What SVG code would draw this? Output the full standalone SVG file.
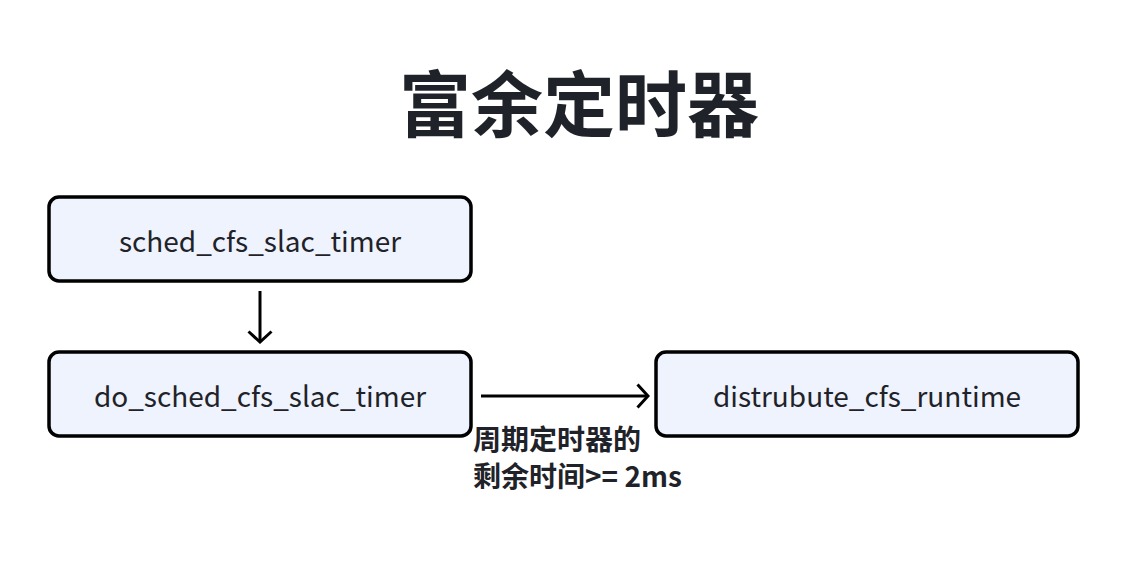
<svg xmlns="http://www.w3.org/2000/svg" width="1128" height="584" viewBox="0 0 1128 584">
<defs>
<style>
.node rect{fill:#eef3fd;stroke:#000;stroke-width:3.5}
.node text{font-family:"Noto Sans CJK SC","Noto Sans",sans-serif;font-size:28px;fill:#1f2329;text-anchor:middle;dominant-baseline:central}
.title{font-family:"Noto Sans CJK SC",sans-serif;font-size:72px;font-weight:bold;fill:#1f2329;text-anchor:middle}
.lbl{font-family:"Noto Sans CJK SC",sans-serif;font-size:28px;font-weight:bold;fill:#1f2329}
.edge{stroke:#000;stroke-width:3;fill:none}
</style>
<marker id="arr" markerWidth="14" markerHeight="26" refX="12" refY="13" orient="auto" markerUnits="userSpaceOnUse" viewBox="0 0 14 26">
<path d="M1.5,1.5 L12,13 L1.5,24.5" fill="none" stroke="#000" stroke-width="3"/>
</marker>
</defs>
<rect width="1128" height="584" fill="#fff"/>
<text class="title" x="579" y="131">富余定时器</text>
<g id="edges">
<line class="edge" x1="260" y1="291" x2="260" y2="342" marker-end="url(#arr)"/>
<line class="edge" x1="481" y1="396" x2="648" y2="396" marker-end="url(#arr)"/>
<text class="lbl" x="473" y="450">周期定时器的</text>
<text class="lbl" x="473" y="487">剩余时间&gt;= 2ms</text>
</g>
<g id="n1" class="node"><rect x="49" y="197" width="422" height="84" rx="10"/><text x="260" y="240">sched_cfs_slac_timer</text></g>
<g id="n2" class="node"><rect x="49" y="352" width="422" height="84" rx="10"/><text x="260" y="395">do_sched_cfs_slac_timer</text></g>
<g id="n3" class="node"><rect x="656" y="352" width="422" height="84" rx="10"/><text x="867" y="395">distrubute_cfs_runtime</text></g>
</svg>
